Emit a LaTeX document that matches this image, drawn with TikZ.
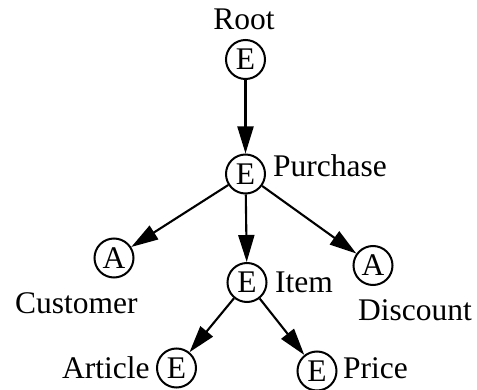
\documentclass[tikz,border=0pt]{standalone}
\usepackage{fontspec}
\setmainfont{Liberation Serif}
\usetikzlibrary{arrows.meta}
\begin{document}
\begin{tikzpicture}[x=1pt,y=-1pt,
  every node/.style={font=\fontsize{31.5}{36}\selectfont},
  vertex/.style={circle,draw,line width=2pt,minimum size=39pt,inner sep=0pt},
  lbl/.style={inner sep=0pt,anchor=base west},
  link/.style={line width=2.1pt,-{Triangle[length=27pt,width=16pt]}}]
\useasboundingbox (0,0) rectangle (477,390);
% element and attribute nodes
\node[vertex] (root) at (245.5,59.5) {E};
\node[vertex] (purchase) at (245.5,174) {E};
\node[vertex] (customer) at (114,258) {A};
\node[vertex] (item) at (247,282.5) {E};
\node[vertex] (discount) at (373,265.5) {A};
\node[vertex] (article) at (176.5,368) {E};
\node[vertex] (price) at (317,371) {E};
% names
\node[inner sep=0pt,anchor=base] (rootname) at (244,30) {Root};
\node[lbl] (purchasename) at (273,177) {Purchase};
\node[lbl] (customername) at (15,313) {Customer};
\node[lbl] (itemname) at (275,293) {Item};
\node[lbl] (discountname) at (358,320) {Discount};
\node[lbl] (articlename) at (62,378) {Article};
\node[lbl] (pricename) at (343,378) {Price};
% edges
\draw[link] (root) -- (purchase);
\draw[link] (purchase) -- (customer);
\draw[link] (purchase) -- (item);
\draw[link] (purchase) -- (discount);
\draw[link] (item) -- (article);
\draw[link] (item) -- (price);
\end{tikzpicture}
\end{document}
